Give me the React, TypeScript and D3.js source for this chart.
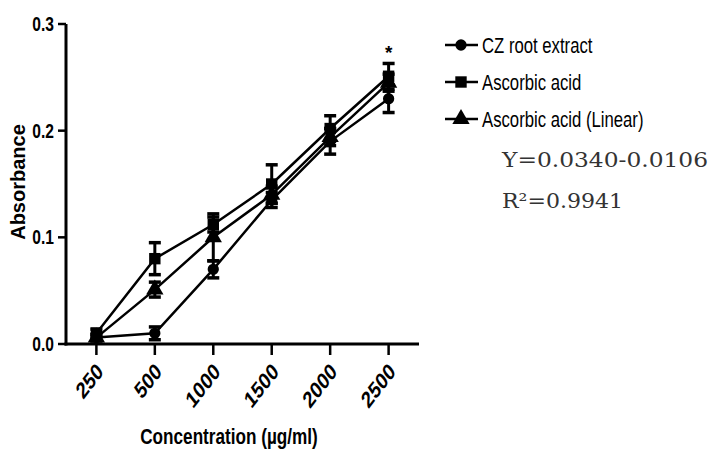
import React from "react";
import * as d3 from "d3";

const categories = ["250", "500", "1000", "1500", "2000", "2500"];
const czValues = [0.006, 0.010, 0.070, 0.135, 0.190, 0.230];
const czErrors = [0.003, 0.006, 0.008, 0.007, 0.012, 0.013];
const aaValues = [0.010, 0.080, 0.112, 0.150, 0.202, 0.251];
const aaErrors = [0.004, 0.015, 0.007, 0.018, 0.012, 0.012];
const linValues = [0.006, 0.051, 0.100, 0.140, 0.194, 0.245];
const linErrors = [0.003, 0.007, 0.022, 0.008, 0.008, 0.008];
const yTicks = [0, 0.1, 0.2, 0.3];
const seriesNames = ["CZ root extract", "Ascorbic acid", "Ascorbic acid (Linear)"];
const equationLines = ["Y=0.0340-0.0106", "R²=0.9941"];

const W = 709;
const H = 450;
const axisX0 = 66;
const axisX1 = 419;
const axisY0 = 344;
const axisY1 = 24;

const x = d3.scalePoint<string>().domain(categories).range([axisX0, axisX1]).padding(0.52);
const y = d3.scaleLinear().domain([0, 0.3]).range([axisY0, axisY1]);

type Series = { name: string; values: number[]; errors: number[]; shape: string };
const series: Series[] = [
  { name: seriesNames[0], values: czValues, errors: czErrors, shape: "circle" },
  { name: seriesNames[1], values: aaValues, errors: aaErrors, shape: "square" },
  { name: seriesNames[2], values: linValues, errors: linErrors, shape: "triangle" },
];

const symbolFor = (shape: string) => {
  if (shape === "circle") return d3.symbol(d3.symbolCircle, 100)();
  if (shape === "square") return d3.symbol(d3.symbolSquare, 130)();
  return d3.symbol(d3.symbolTriangle, 130)();
};

const line = d3
  .line<number>()
  .x((_, i) => x(categories[i]) as number)
  .y((v) => y(v));

const SANS = "'Liberation Sans', Arial, sans-serif";
const SQ = 0.78;

export default function App() {
  const legendY = [45, 82, 119];
  return (
    <svg width={W} height={H} style={{ position: "absolute", left: 0, top: 0, background: "#fff" }}>
      <rect x={0} y={0} width={W} height={H} fill="#fff" />
      {/* Axes */}
      <line x1={axisX0} x2={axisX0} y1={axisY1} y2={axisY0 + 1.5} stroke="#000" strokeWidth={3} />
      <line x1={axisX0 - 1.5} x2={axisX1} y1={axisY0} y2={axisY0} stroke="#000" strokeWidth={3} />
      {yTicks.map((t) => (
        <g key={t}>
          <line x1={axisX0 - 8} x2={axisX0} y1={y(t)} y2={y(t)} stroke="#000" strokeWidth={2.5} />
          <text
            transform={`translate(${axisX0 - 12},${y(t) + 7}) scale(${SQ},1)`}
            textAnchor="end"
            fontFamily={SANS}
            fontWeight="bold"
            fontSize={20}
          >
            {t.toFixed(1)}
          </text>
        </g>
      ))}
      {categories.map((c) => (
        <g key={c}>
          <line x1={x(c)} x2={x(c)} y1={axisY0} y2={axisY0 + 11} stroke="#000" strokeWidth={2.5} />
          <text
            transform={`translate(${(x(c) as number) + 8},${axisY0 + 29}) scale(${SQ},1) rotate(-45)`}
            textAnchor="end"
            fontFamily={SANS}
            fontWeight="bold"
            fontSize={23}
          >
            {c}
          </text>
        </g>
      ))}
      <text
        transform={`translate(229,444) scale(${SQ},1)`}
        textAnchor="middle"
        fontFamily={SANS}
        fontWeight="bold"
        fontSize={22}
      >
        Concentration (µg/ml)
      </text>
      <text
        transform={`translate(25,182) rotate(-90)`}
        textAnchor="middle"
        fontFamily={SANS}
        fontWeight="bold"
        fontSize={20}
      >
        Absorbance
      </text>

      {/* Lines */}
      {series.map((s) => (
        <path key={s.name + "l"} d={line(s.values) as string} fill="none" stroke="#000" strokeWidth={2.5} />
      ))}
      {/* Error bars */}
      {series.map((s) =>
        s.values.map((v, i) => {
          const cx = x(categories[i]) as number;
          const top = y(v + s.errors[i]);
          const bot = y(v - s.errors[i]);
          return (
            <g key={s.name + "e" + i}>
              <line x1={cx} x2={cx} y1={top} y2={bot} stroke="#000" strokeWidth={3} />
              <line x1={cx - 6} x2={cx + 6} y1={top} y2={top} stroke="#000" strokeWidth={3.5} />
              <line x1={cx - 6} x2={cx + 6} y1={bot} y2={bot} stroke="#000" strokeWidth={3.5} />
            </g>
          );
        })
      )}
      {/* Markers */}
      {series.map((s) =>
        s.values.map((v, i) => (
          <path
            key={s.name + "m" + i}
            d={symbolFor(s.shape) as string}
            transform={`translate(${x(categories[i])},${y(v)})`}
            fill="#000"
          />
        ))
      )}
      <text x={x("2500")} y={59} textAnchor="middle" fontFamily={SANS} fontWeight="bold" fontSize={19}>
        *
      </text>

      {/* Legend */}
      {series.map((s, i) => (
        <g key={s.name + "leg"} transform={`translate(0,${legendY[i]})`}>
          <line x1={445} x2={478} y1={0} y2={0} stroke="#000" strokeWidth={2.5} />
          <path d={symbolFor(s.shape) as string} transform="translate(461,0)" fill="#000" />
          <text
            transform={`translate(482,8) scale(0.76,1)`}
            fontFamily={SANS}
            fontSize={22}
          >
            {s.name}
          </text>
        </g>
      ))}

      {/* Equation */}
      <text x={502} y={167} fontFamily="'DejaVu Serif', serif" fontSize={21} textLength={206} lengthAdjust="spacingAndGlyphs" fill="#333">
        {equationLines[0]}
      </text>
      <text x={502} y={208} fontFamily="'DejaVu Serif', serif" fontSize={21} textLength={121} lengthAdjust="spacingAndGlyphs" fill="#333">
        {equationLines[1]}
      </text>
    </svg>
  );
}
